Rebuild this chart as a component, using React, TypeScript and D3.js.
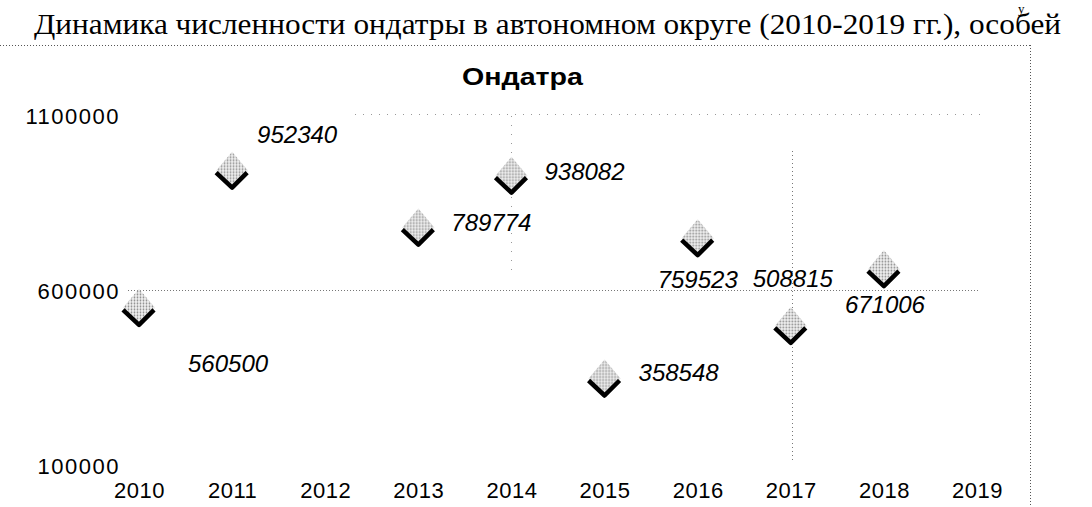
import React, { useEffect, useRef } from "react";
import * as d3 from "d3";

// ---- data ----
const years = [2010, 2011, 2012, 2013, 2014, 2015, 2016, 2017, 2018, 2019];
const valueYears = [2010, 2011, 2013, 2014, 2015, 2016, 2017, 2018];
const values = [560500, 952340, 789774, 938082, 358548, 759523, 508815, 671006];
const yTicks = [100000, 600000, 1100000];
const docTitle = "Динамика численности ондатры в автономном округе (2010-2019 гг.), особей";
const chartTitle = "Ондатра";

// ---- layout (label placement offsets, px) ----
const labelOffsets: [number, number][] = [
  [49, 67], [25, -25], [33, 6], [33, 7], [34, 5], [-40, 53], [-38, -36], [-39, 47],
];

const W = 1092;
const H = 507;

export default function App() {
  const ref = useRef<SVGSVGElement>(null);

  useEffect(() => {
    const svg = d3.select(ref.current);
    svg.selectAll("*").remove();

    const x = d3.scaleLinear().domain([2010, 2019]).range([139, 977]);
    const y = d3.scaleLinear().domain([100000, 1100000]).range([466, 116]);

    const defs = svg.append("defs");
    const pat = defs
      .append("pattern")
      .attr("id", "dots")
      .attr("width", 3)
      .attr("height", 3)
      .attr("patternUnits", "userSpaceOnUse");
    pat.append("rect").attr("width", 3).attr("height", 3).attr("fill", "#f2f2f2");
    pat.append("circle").attr("cx", 1.5).attr("cy", 1.5).attr("r", 0.9).attr("fill", "#8a8a8a");

    svg.append("rect").attr("width", W).attr("height", H).attr("fill", "#fff");

    // fragment of previous line
    svg
      .append("text")
      .attr("x", 1018)
      .attr("y", 13)
      .attr("font-family", "'Liberation Serif', 'Times New Roman', serif")
      .attr("font-size", 13)
      .attr("fill", "#000")
      .text("у");

    // document title
    svg
      .append("text")
      .attr("x", 34)
      .attr("y", 34)
      .attr("font-family", "'Liberation Serif', 'Times New Roman', serif")
      .attr("font-size", 29)
      .attr("textLength", 1027)
      .attr("lengthAdjust", "spacingAndGlyphs")
      .attr("fill", "#000")
      .text(docTitle);

    // frame dotted lines
    svg
      .append("line")
      .attr("x1", 0)
      .attr("x2", 1030)
      .attr("y1", 45.5)
      .attr("y2", 45.5)
      .attr("stroke", "#555")
      .attr("stroke-width", 1)
      .attr("stroke-dasharray", "1,2");
    svg
      .append("line")
      .attr("x1", 1030.5)
      .attr("x2", 1030.5)
      .attr("y1", 45)
      .attr("y2", H)
      .attr("stroke", "#555")
      .attr("stroke-width", 1)
      .attr("stroke-dasharray", "1,2");

    // chart title
    svg
      .append("text")
      .attr("x", 462)
      .attr("y", 85)
      .attr("font-family", "Arial, 'Liberation Sans', sans-serif")
      .attr("font-weight", "bold")
      .attr("font-size", 23)
      .attr("textLength", 121)
      .attr("lengthAdjust", "spacingAndGlyphs")
      .attr("fill", "#000")
      .text(chartTitle);

    // gridlines (faint dotted)
    svg
      .append("line")
      .attr("x1", 128)
      .attr("x2", 978)
      .attr("y1", Math.round(y(600000)) - 0.5)
      .attr("y2", Math.round(y(600000)) - 0.5)
      .attr("stroke", "#777")
      .attr("stroke-dasharray", "1,2");
    svg
      .append("line")
      .attr("x1", 355)
      .attr("x2", 980)
      .attr("y1", Math.round(y(1100000)) - 1.5)
      .attr("y2", Math.round(y(1100000)) - 1.5)
      .attr("stroke", "#999")
      .attr("stroke-dasharray", "1,7");
    svg
      .append("line")
      .attr("x1", Math.round(x(2017)) + 1.5)
      .attr("x2", Math.round(x(2017)) + 1.5)
      .attr("y1", y(1000000))
      .attr("y2", 462)
      .attr("stroke", "#777")
      .attr("stroke-dasharray", "1,3");
    svg
      .append("line")
      .attr("x1", Math.round(x(2014)) + 0.5)
      .attr("x2", Math.round(x(2014)) + 0.5)
      .attr("y1", 116)
      .attr("y2", 272)
      .attr("stroke", "#999")
      .attr("stroke-dasharray", "1,8");

    // y axis
    const yAxis = d3.axisLeft(y).tickValues(yTicks).tickSize(0).tickPadding(0).tickFormat(d3.format("d"));
    const gy = svg.append("g").attr("transform", "translate(120,0)").call(yAxis);
    gy.select(".domain").remove();
    gy.selectAll("text")
      .attr("font-family", "Arial, 'Liberation Sans', sans-serif")
      .attr("font-size", 22)
      .attr("letter-spacing", 1.5)
      .attr("fill", "#000")
      .attr("dy", "0.36em");

    // x axis
    const xAxis = d3.axisBottom(x).tickValues(years).tickSize(0).tickPadding(0).tickFormat(d3.format("d"));
    const gx = svg.append("g").attr("transform", "translate(0,482)").call(xAxis);
    gx.select(".domain").remove();
    gx.selectAll("text")
      .attr("font-family", "Arial, 'Liberation Sans', sans-serif")
      .attr("font-size", 22)
      .attr("letter-spacing", 0.5)
      .attr("fill", "#000")
      .attr("dy", "0.71em");

    // markers
    const pts = valueYears.map((yr, i) => ({ yr, v: values[i], off: labelOffsets[i] }));
    const mg = svg
      .append("g")
      .selectAll("g")
      .data(pts)
      .join("g")
      .attr("transform", (d) => `translate(${x(d.yr)},${y(d.v) + 3})`);
    mg.append("path")
      .attr("d", "M0,-19 L16,0 L0,19 L-16,0 Z")
      .attr("fill", "url(#dots)");
    mg.append("path")
      .attr("d", "M-16,2 L0,17 L15,2")
      .attr("fill", "none")
      .attr("stroke", "#000")
      .attr("stroke-width", 4.5)
      .attr("stroke-linejoin", "round");

    // data labels
    svg
      .append("g")
      .selectAll("text")
      .data(pts)
      .join("text")
      .attr("x", (d) => x(d.yr) + d.off[0])
      .attr("y", (d) => y(d.v) + d.off[1])
      .attr("font-family", "Arial, 'Liberation Sans', sans-serif")
      .attr("font-style", "italic")
      .attr("font-size", 24)
      .attr("fill", "#000")
      .text((d) => String(d.v));
  }, []);

  return (
    <div style={{ position: "fixed", left: 0, top: 0 }}>
      <svg ref={ref} width={W} height={H} style={{ display: "block" }} />
    </div>
  );
}
